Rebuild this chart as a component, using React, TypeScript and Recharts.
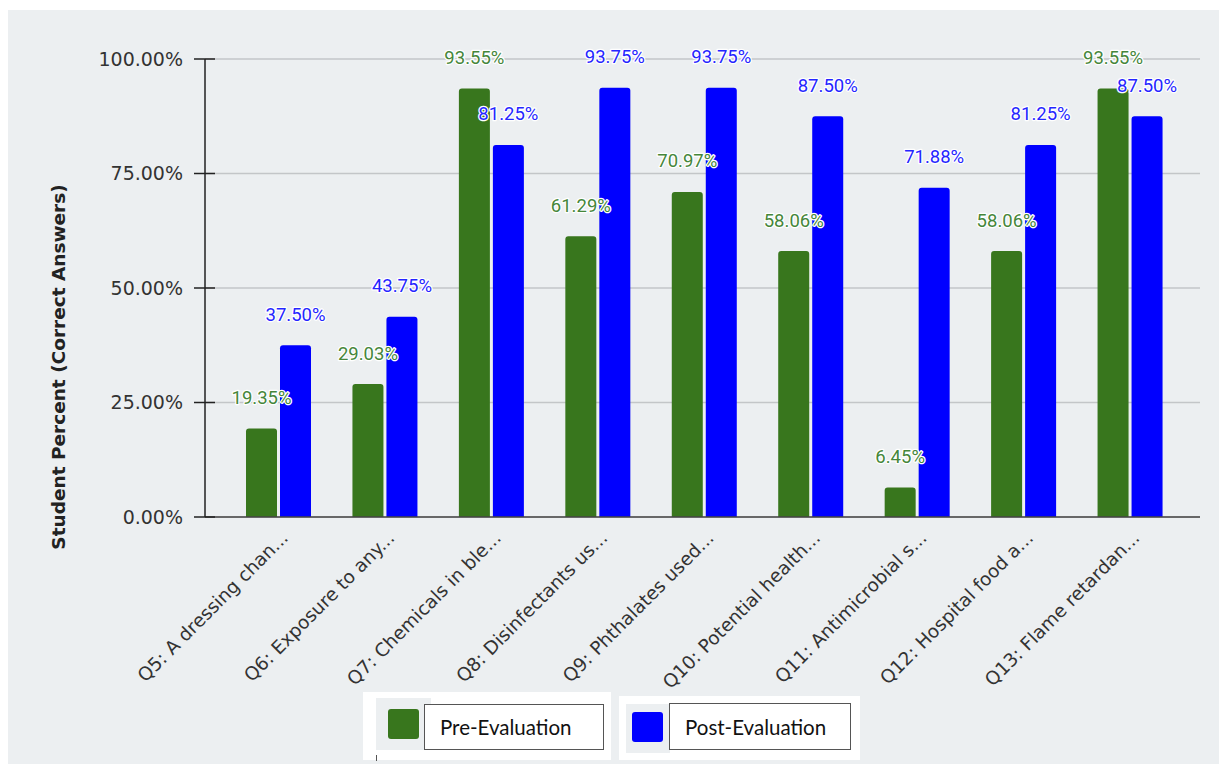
import { BarChart, Bar, XAxis, YAxis, CartesianGrid, LabelList, Label } from 'recharts';

const categories = [
  'Q5: A dressing chan...',
  'Q6: Exposure to any...',
  'Q7: Chemicals in ble...',
  'Q8: Disinfectants us...',
  'Q9: Phthalates used...',
  'Q10: Potential health...',
  'Q11: Antimicrobial s...',
  'Q12: Hospital food a...',
  'Q13: Flame retardan...',
];
const preEvaluation = [19.35, 29.03, 93.55, 61.29, 70.97, 58.06, 6.45, 58.06, 93.55];
const postEvaluation = [37.5, 43.75, 81.25, 93.75, 93.75, 87.5, 71.88, 81.25, 87.5];
const yTicks = [0, 25, 50, 75, 100];

const series = [
  { key: 'pre', name: 'Pre-Evaluation', color: '#38761d', labelColor: '#45863a' },
  { key: 'post', name: 'Post-Evaluation', color: '#0000ff', labelColor: '#2525ff' },
];

const data = categories.map((name, i) => ({ name, pre: preEvaluation[i], post: postEvaluation[i] }));

const fmt = (v: number) => `${v.toFixed(2)}%`;

function YTick(props: any) {
  const { x, y, payload } = props;
  return (
    <g>
      <line x1={x - 11} x2={x + 10} y1={y} y2={y} stroke="#222" strokeWidth={1.5} />
      <text x={x - 22} y={y} dy="0.36em" textAnchor="end" fill="#333" fontSize={19} fontFamily="DejaVu Sans">
        {fmt(payload.value)}
      </text>
    </g>
  );
}

function XTick(props: any) {
  const { x, y, payload } = props;
  const tx = x + 11;
  const ty = y + 22;
  return (
    <text x={tx} y={ty} textAnchor="end" fill="#333" fontSize={18.5} fontFamily="DejaVu Sans" transform={`rotate(-45 ${tx} ${ty})`}>
      {payload.value}
    </text>
  );
}

function makeLabel(color: string) {
  return (props: any) => {
    const { x, y, width, value } = props;
    const cx = Number(x) + Number(width) / 2;
    return (
      <text
        x={cx}
        y={Number(y) - 24.5}
        textAnchor="middle"
        fill={color}
        fontSize={18.5}
        fontFamily="Roboto"
        stroke="#fff"
        strokeWidth={2.5}
        strokeLinejoin="round"
        style={{ paintOrder: 'stroke' }}
      >
        {fmt(Number(value))}
      </text>
    );
  };
}

const legendBoxes = [
  { box: { left: 355, top: 682, width: 248, height: 68 }, grey: { left: 368, top: 688, width: 55, height: 52 }, sw: { left: 380, top: 699 }, framed: { left: 416, top: 694, width: 180, height: 46 } },
  { box: { left: 611, top: 686, width: 241, height: 64 }, grey: { left: 618, top: 694, width: 44, height: 49 }, sw: { left: 624, top: 702 }, framed: { left: 661, top: 693, width: 182, height: 47 } },
];

export default function App() {
  return (
    <div style={{ position: 'relative', width: 1212, height: 754, marginTop: 2, background: '#eceff1' }}>
      <BarChart
        width={1212}
        height={754}
        data={data}
        margin={{ top: 49, right: 20, bottom: 147, left: 20 }}
        barSize={31}
        barGap={3}
      >
        <CartesianGrid horizontal vertical={false} stroke="#c3c6c8" strokeWidth={1.5} />
        <XAxis
          dataKey="name"
          padding={{ left: 20, right: 17 }}
          height={100}
          interval={0}
          tickLine={false}
          tickSize={0}
          tickMargin={0}
          tick={<XTick />}
          axisLine={{ stroke: '#444', strokeWidth: 1.5 }}
        />
        <YAxis
          width={177}
          domain={[0, 100]}
          ticks={yTicks}
          tickLine={false}
          tickSize={0}
          tickMargin={0}
          tick={<YTick />}
          axisLine={{ stroke: '#222', strokeWidth: 1.5 }}
        >
          <Label
            content={(p: any) => {
              const vb = p.viewBox;
              const lx = vb.x + 30;
              const ly = vb.y + vb.height / 2 + 79;
              return (
                <text x={lx} y={ly} transform={`rotate(-90 ${lx} ${ly})`} textAnchor="middle" dy="0.36em" fontSize={18.5} fontWeight="bold" fontFamily="DejaVu Sans" fill="#222">
                  Student Percent (Correct Answers)
                </text>
              );
            }}
          />
        </YAxis>
        {series.map((s) => (
          <Bar key={s.key} dataKey={s.key} name={s.name} fill={s.color} radius={[3, 3, 0, 0]} isAnimationActive={false}>
            <LabelList dataKey={s.key} content={makeLabel(s.labelColor)} />
          </Bar>
        ))}
      </BarChart>
      {series.map((s, i) => {
        const L = legendBoxes[i];
        return (
          <div key={s.key}>
            <div style={{ position: 'absolute', background: '#fff', ...L.box }} />
            <div style={{ position: 'absolute', background: '#eceff1', ...L.grey }} />
            <div style={{ position: 'absolute', width: 31, height: 30, borderRadius: 3, background: s.color, ...L.sw }} />
            <div
              style={{
                position: 'absolute',
                boxSizing: 'border-box',
                border: '1px solid #555',
                background: '#fff',
                display: 'flex',
                alignItems: 'center',
                paddingLeft: 15,
                fontFamily: 'Lato',
                fontSize: 20.5,
                color: '#111',
                ...L.framed,
              }}
            >
              {s.name}
            </div>
          </div>
        );
      })}
      <div style={{ position: 'absolute', left: 368, top: 745, width: 1, height: 6, background: '#555' }} />
    </div>
  );
}
